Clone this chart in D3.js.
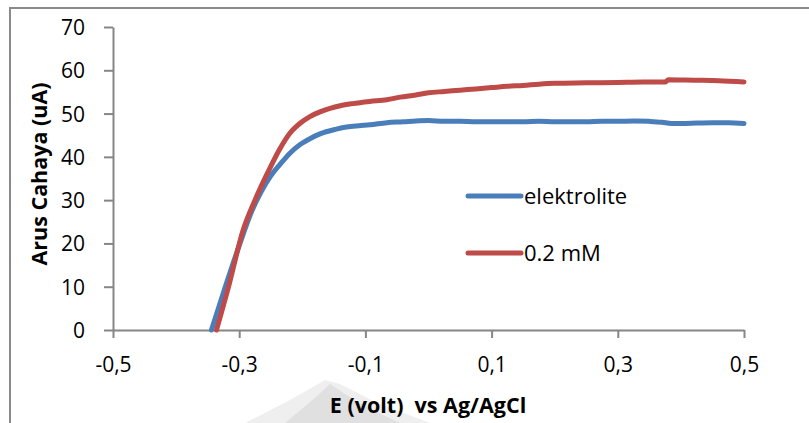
<!DOCTYPE html>
<html>
<head>
<meta charset="utf-8">
<script src="https://cdn.jsdelivr.net/npm/d3@7"></script>
<style>
  body { margin: 0; background: #fff; }
  text { font-family: "Open Sans", "Liberation Sans", sans-serif; fill: #000; }
</style>
</head>
<body>
<div id="chart"></div>
<script>
// data
var blueE = [-0.344, -0.322, -0.300, -0.280, -0.265, -0.251, -0.235, -0.220, -0.204, -0.188, -0.172, -0.146, -0.130, -0.110, -0.093, -0.066,
             -0.040, -0.020, 0.000, 0.025, 0.050, 0.075, 0.100, 0.125, 0.150, 0.175, 0.200, 0.225, 0.250, 0.275, 0.300, 0.325, 0.350, 0.370, 0.385, 0.400, 0.425, 0.450, 0.475, 0.500];
var blueI = [0, 10, 19.5, 27.5, 32, 35.4, 38.3, 40.8, 42.8, 44.2, 45.3, 46.4, 46.9, 47.2, 47.4, 47.9,
             48.1, 48.3, 48.4, 48.2, 48.2, 48.1, 48.1, 48.1, 48.1, 48.2, 48.1, 48.1, 48.1, 48.2, 48.2, 48.3, 48.2, 48.0, 47.7, 47.7, 47.8, 47.9, 47.9, 47.7];

var redE = [-0.336, -0.316, -0.294, -0.275, -0.256, -0.235, -0.220, -0.204, -0.188, -0.170, -0.156, -0.140, -0.120, -0.093, -0.066, -0.045,
            -0.020, 0.000, 0.025, 0.050, 0.075, 0.100, 0.125, 0.150, 0.175, 0.200, 0.250, 0.300, 0.340, 0.375, 0.380, 0.420, 0.460, 0.500];
var redI = [0, 10.5, 23, 30, 36, 42, 45.4, 47.7, 49.3, 50.5, 51.2, 51.8, 52.3, 52.8, 53.2, 53.8,
            54.3, 54.8, 55.1, 55.4, 55.7, 56.0, 56.3, 56.5, 56.8, 57.0, 57.1, 57.2, 57.3, 57.3, 57.8, 57.7, 57.6, 57.3];

var seriesNames = ["elektrolite", "0.2 mM"];
var seriesColors = ["#4A7EBB", "#BE4B48"];
var xTicks = [-0.5, -0.3, -0.1, 0.1, 0.3, 0.5];
var yTicks = [0, 10, 20, 30, 40, 50, 60, 70];

var svgWidth = 809;
var svgHeight = 423;

var margin = { top: 27, left: 113 };
var width = 631;
var height = 303;

var svg = d3.select("#chart")
            .append("svg")
            .attr("width", svgWidth)
            .attr("height", svgHeight);

// outer frame (only top and left edges are visible)
svg.append("path")
   .attr("d", "M10,423 L10,8 L809,8")
   .attr("fill", "none")
   .attr("stroke", "#8a8a8a")
   .attr("stroke-width", 2);

// faint grey scan smudge below the axis
svg.append("path")
   .attr("d", "M245,423 L290,400 L325,380 L340,384 L375,402 L430,423 Z")
   .attr("fill", "#efefef");
svg.append("path")
   .attr("d", "M285,423 L315,398 L330,384 L342,392 L368,408 L400,423 Z")
   .attr("fill", "#e0e0e0");

var chartGroup = svg.append("g")
                    .attr("transform", `translate(${margin.left}, ${margin.top})`);

var xScale = d3.scaleLinear().domain([-0.5, 0.5]).range([0, width]);
var yScale = d3.scaleLinear().domain([0, 70]).range([height, 0]);

var fmt = d => d3.format(".1f")(d).replace("−", "-").replace(".", ",");

var bottomAxis = d3.axisBottom(xScale).tickValues(xTicks).tickSizeInner(8).tickSizeOuter(0).tickPadding(19).tickFormat(fmt);
var leftAxis = d3.axisLeft(yScale).tickValues(yTicks).tickSizeInner(9).tickSizeOuter(0).tickPadding(19);

var xAxisG = chartGroup.append("g")
                       .attr("transform", `translate(0, ${height})`)
                       .call(bottomAxis);
var yAxisG = chartGroup.append("g").call(leftAxis);

[xAxisG, yAxisG].forEach(function(g) {
  g.selectAll("path, line").attr("stroke", "#868686").attr("stroke-width", 2);
  g.selectAll("text").style("font-size", "21px").style("font-family", "'Open Sans', sans-serif").attr("fill", "#000");
});
yAxisG.selectAll("text").attr("dy", "0.36em");

// lines
var lineGen = d3.line()
                .x(d => xScale(d[0]))
                .y(d => yScale(d[1]))
                .curve(d3.curveMonotoneX);

var blueData = blueE.map((e, i) => [e, blueI[i]]);
var redData = redE.map((e, i) => [e, redI[i]]);

[blueData, redData].forEach(function(data, i) {
  chartGroup.append("path")
            .datum(data)
            .attr("d", lineGen)
            .attr("fill", "none")
            .attr("stroke", seriesColors[i])
            .attr("stroke-width", 5)
            .attr("stroke-linecap", "round")
            .attr("stroke-linejoin", "round");
});

// legend
var legend = svg.append("g");
seriesNames.forEach(function(name, i) {
  var y = 196 + i * 57;
  legend.append("line")
        .attr("x1", 468).attr("x2", 521)
        .attr("y1", y).attr("y2", y)
        .attr("stroke", seriesColors[i])
        .attr("stroke-width", 5)
        .attr("stroke-linecap", "round");
  legend.append("text")
        .attr("x", 524)
        .attr("y", y)
        .attr("dy", "0.36em")
        .style("font-size", "22px")
        .text(name);
});

// axis titles
svg.append("text")
   .attr("transform", "translate(47, 174) rotate(-90)")
   .attr("text-anchor", "middle")
   .style("font-size", "21.5px")
   .style("font-weight", "bold")
   .text("Arus Cahaya (uA)");

svg.append("text")
   .attr("x", 428)
   .attr("y", 413)
   .attr("text-anchor", "middle")
   .style("font-size", "21.5px")
   .style("font-weight", "bold")
   .style("white-space", "pre")
   .text("E (volt)  vs Ag/AgCl");
</script>
</body>
</html>
